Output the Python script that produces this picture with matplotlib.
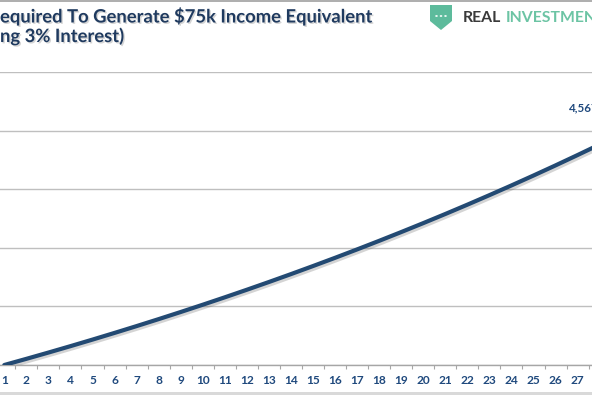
import matplotlib
matplotlib.use('Agg')
import matplotlib.pyplot as plt
import matplotlib.patheffects as pe
from matplotlib.patches import Polygon, Circle, Rectangle
from matplotlib.lines import Line2D

# ---------------- data ----------------
years = list(range(1, 31))
capital = [2500000, 2552500, 2606100, 2660800, 2716700, 2773800, 2832000, 2891500,
           2952200, 3014200, 3077500, 3142100, 3208100, 3275500, 3344300, 3414500,
           3486200, 3559400, 3634200, 3710500, 3788400, 3867900, 3949200, 4032100,
           4116800, 4203200, 4291500, 4381600, 4473600, 4567586]
y_ticks = [2500000, 3000000, 3500000, 4000000, 4500000, 5000000]
title_line1 = "equired To Generate $75k Income Equivalent"
title_line2 = "ng 3% Interest)"
logo_word1 = "REAL"
logo_word2 = "INVESTMENT"

W, H = 592, 395
fig = plt.figure(figsize=(W / 100, H / 100), dpi=100)
fig.patch.set_facecolor('white')

def fx(x):
    return x / W

def fy(y):
    return 1 - y / H

# axes placement (the reference is a crop of a larger chart)
x0_px, step_px = 4.3, 22.05
y_bot_px, y_top_px = 365, 72
ax = fig.add_axes([0, fy(y_bot_px), 1, (y_bot_px - y_top_px) / H])

for s in ['left', 'right', 'top']:
    ax.spines[s].set_visible(False)
ax.spines['bottom'].set_color('#A6A6A6')
ax.spines['bottom'].set_linewidth(1.0)

ax.set_yticks(y_ticks)
ax.yaxis.grid(True, color='#BFBFBF', linewidth=1.0)
ax.tick_params(axis='y', length=0, labelleft=False)
ax.set_axisbelow(True)

ax.set_xticks(years)
ax.set_xticklabels([str(y) for y in years])
ax.set_xticks([y + 0.5 for y in years], minor=True)
ax.tick_params(axis='x', which='major', length=0, pad=7,
               labelsize=8.6, labelcolor='#1F497D')
ax.tick_params(axis='x', which='minor', length=3, width=0.8, color='#A6A6A6',
               direction='out')
for lbl in ax.get_xticklabels():
    lbl.set_fontweight('bold')
    lbl.set_family(['Lato', 'DejaVu Sans'])

ax.plot(years, capital, color='#234A73', linewidth=3.0, solid_capstyle='round',
        path_effects=[pe.SimpleLineShadow(offset=(1.5, -1.5), alpha=0.25, shadow_color='#555555'),
                      pe.Normal()], clip_on=True, zorder=3)

xmin = 1 - x0_px / step_px
xmax = 1 + (W - x0_px) / step_px
ax.set_xlim(xmin, xmax)
ax.set_ylim(y_ticks[0], y_ticks[-1])

# data label for the last point (partially visible at the right edge)
ax.text(26.61, 4693000, f"{capital[-1]:,}", ha='left', va='center',
        fontsize=8.3, fontweight='bold', color='#1F497D', family=['Lato', 'DejaVu Sans'],
        clip_on=False)

# ---------------- title ----------------
fig.canvas.draw()
renderer = fig.canvas.get_renderer()

def fit_text(t, target_w):
    bb = t.get_window_extent(renderer)
    t.set_fontsize(t.get_fontsize() * target_w / bb.width)

title_kw = dict(fontweight='bold', color='#1F3A5F', family=['Lato', 'DejaVu Sans'],
                path_effects=[pe.withSimplePatchShadow(offset=(1, -1), shadow_rgbFace='#888888', alpha=0.35)])
t1 = fig.text(fx(0), fy(16), title_line1, ha='left', va='center', fontsize=13, **title_kw)
fit_text(t1, 372)
t2 = fig.text(fx(0), fy(36), title_line2, ha='left', va='center', fontsize=t1.get_fontsize(), **title_kw)

# ---------------- logo ----------------
shield = Polygon([(fx(430), fy(5)), (fx(452), fy(5)), (fx(452), fy(21)),
                  (fx(441), fy(30)), (fx(430), fy(21))],
                 closed=True, transform=fig.transFigure, facecolor='#5DBB9C',
                 edgecolor='none')
fig.patches.append(shield)
for dx in (436.5, 441, 445.5):
    fig.patches.append(Circle((fx(dx), fy(16)), 1.3 / W, transform=fig.transFigure,
                              facecolor='white', edgecolor='none'))
r1 = fig.text(fx(463), fy(17.5), logo_word1, ha='left', va='center', fontsize=9,
              fontweight='bold', color='#3A3A3A', family=['Lato', 'DejaVu Sans'])
fit_text(r1, 38)
r2 = fig.text(fx(506), fy(17.5), logo_word2, ha='left', va='center', fontsize=r1.get_fontsize(),
              fontweight='bold', color='#6CC4A4', family=['Lato', 'DejaVu Sans'])

# frame pieces
fig.lines.append(Line2D([0, 1], [fy(1), fy(1)], transform=fig.transFigure,
                        color='#A0A0A0', linewidth=1.2))
fig.patches.append(Rectangle((0, 0), 1, 3 / H, transform=fig.transFigure,
                             facecolor='#D9D9D9', edgecolor='none'))

fig.savefig('out.png', dpi=100, facecolor='white')
